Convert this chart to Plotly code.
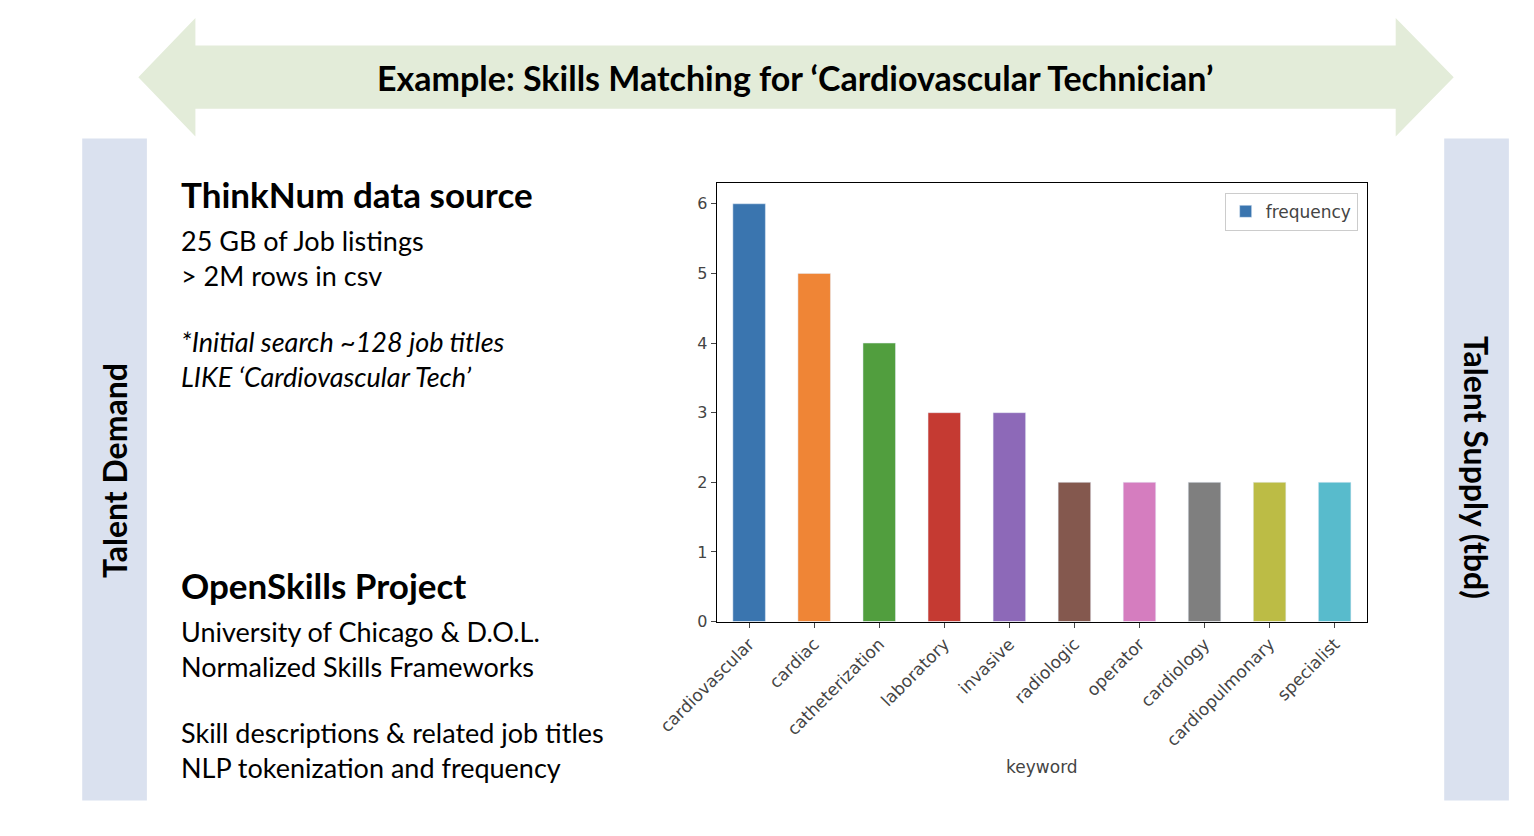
import plotly.graph_objects as go

W, H = 1534, 836

keywords = ["cardiovascular", "cardiac", "catheterization", "laboratory", "invasive",
            "radiologic", "operator", "cardiology", "cardiopulmonary", "specialist"]
frequency = [6, 5, 4, 3, 3, 2, 2, 2, 2, 2]
bar_colors = ["#3a75af", "#ef8536", "#519e3e", "#c53a32", "#8d69b8",
              "#84584e", "#d57dbf", "#7f7f7f", "#bcbc45", "#58bbcc"]
y_ticks = [0, 1, 2, 3, 4, 5, 6]


def px(x):
    return x / W


def py(y):
    return 1 - y / H


fig = go.Figure()
fig.add_trace(go.Bar(x=keywords, y=frequency, marker_color=bar_colors, width=0.5,
                     name="frequency", showlegend=False))
# legend entry in the first bar colour
fig.add_trace(go.Bar(x=[None], y=[None], marker_color=bar_colors[0], name="frequency"))

# top double arrow
pts = [(75, 70), (135, 10), (135, 38), (1397, 38), (1397, 10), (1458, 70),
       (1397, 130), (1397, 102), (135, 102), (135, 130)]
path = "M " + " L ".join(f"{px(a):.5f},{py(b):.5f}" for a, b in pts) + " Z"
shapes = [
    dict(type="path", path=path, xref="paper", yref="paper",
         fillcolor="#e3ecd9", line_width=0, layer="below"),
    dict(type="rect", xref="paper", yref="paper", x0=px(16), x1=px(84), y0=py(802), y1=py(132),
         fillcolor="#dae1ef", line_width=0, layer="below"),
    dict(type="rect", xref="paper", yref="paper", x0=px(1448), x1=px(1516), y0=py(802), y1=py(132),
         fillcolor="#dae1ef", line_width=0, layer="below"),
]

F = "Lato, Open Sans, sans-serif"
ann = [
    dict(text="<b>Example: Skills Matching for ‘Cardiovascular Technician’</b>", x=px(765), y=py(70),
         font=dict(size=34, color="black", family=F), xanchor="center", yanchor="middle"),
    dict(text="<b>Talent Demand</b>", x=px(50), y=py(468), textangle=-90,
         font=dict(size=32, color="black", family=F), xanchor="center", yanchor="middle"),
    dict(text="<b>Talent Supply (tbd)</b>", x=px(1482), y=py(465), textangle=90,
         font=dict(size=32, color="black", family=F), xanchor="center", yanchor="middle"),
    dict(text="<b>ThinkNum data source</b>", x=px(118), y=py(188),
         font=dict(size=35, color="black", family=F), xanchor="left", yanchor="middle"),
    dict(text="25 GB of Job listings<br>> 2M rows in csv", x=px(118), y=py(253), align="left",
         font=dict(size=27, color="black", family=F), xanchor="left", yanchor="middle"),
    dict(text="<i>*Initial search ~128 job titles<br>LIKE ‘Cardiovascular Tech’</i>", x=px(118), y=py(355),
         align="left", font=dict(size=27, color="black", family=F), xanchor="left", yanchor="middle"),
    dict(text="<b>OpenSkills Project</b>", x=px(118), y=py(584),
         font=dict(size=35, color="black", family=F), xanchor="left", yanchor="middle"),
    dict(text="University of Chicago & D.O.L.<br>Normalized Skills Frameworks", x=px(118), y=py(649),
         align="left", font=dict(size=27, color="black", family=F), xanchor="left", yanchor="middle"),
    dict(text="Skill descriptions & related job titles<br>NLP tokenization and frequency", x=px(118), y=py(751),
         align="left", font=dict(size=27, color="black", family=F), xanchor="left", yanchor="middle"),
]
for a in ann:
    a.update(xref="paper", yref="paper", showarrow=False)

fig.update_layout(
    autosize=True, margin=dict(l=0, r=0, t=0, b=0),
    paper_bgcolor="white", plot_bgcolor="white",
    shapes=shapes, annotations=ann,
    font=dict(family="DejaVu Sans", size=16, color="#333"),
    xaxis=dict(domain=[px(683), px(1367)], showline=True, linecolor="black", mirror=True,
               ticks="outside", tickangle=-45, tickfont=dict(size=17, color="#444"),
               title=dict(text="keyword", font=dict(size=17, color="#444"), standoff=12)),
    yaxis=dict(domain=[py(621), py(177)], range=[0, 6.3], tickvals=y_ticks, showline=True,
               linecolor="black", mirror=True, ticks="outside", showgrid=False, zeroline=False,
               tickfont=dict(size=16, color="#444")),
    legend=dict(x=px(1357), y=py(187), xanchor="right", yanchor="top", xref="paper", yref="paper",
                bordercolor="#ccc", borderwidth=1, font=dict(size=17, color="#444")),
)

fig.write_html("out.html", default_width="100%", default_height="100vh")
